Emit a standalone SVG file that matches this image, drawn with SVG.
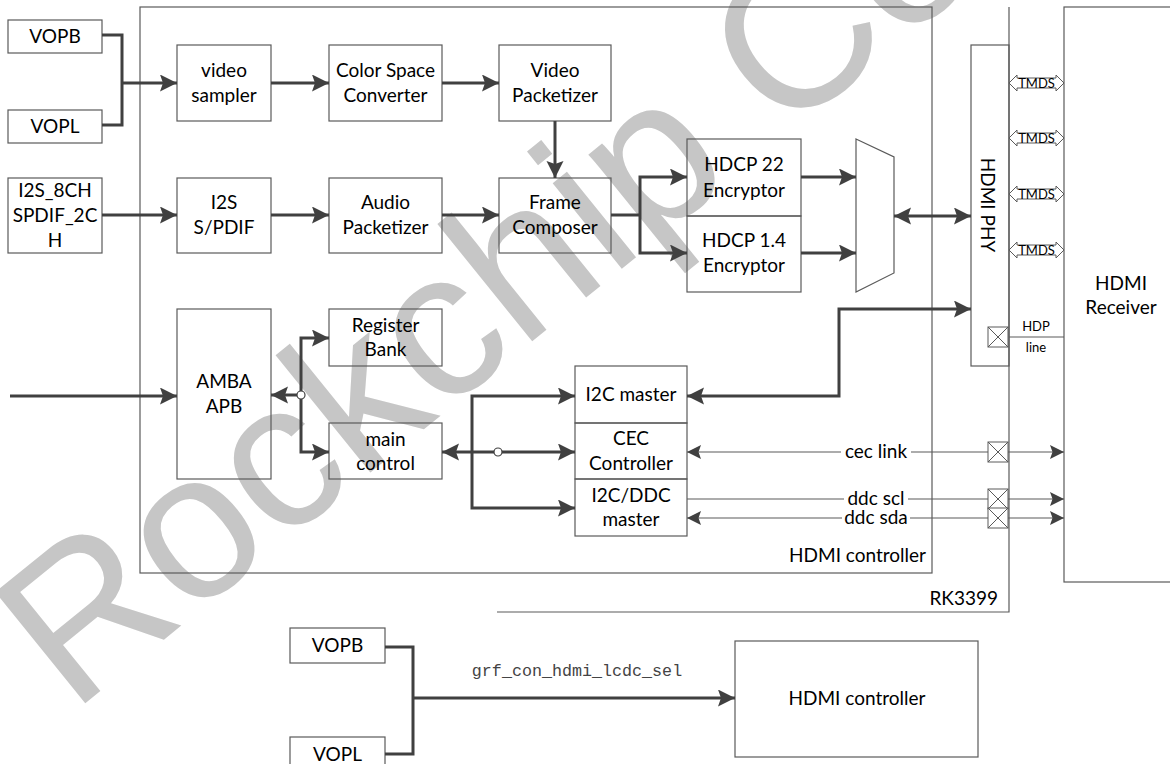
<svg xmlns="http://www.w3.org/2000/svg" width="1170" height="764" viewBox="0 0 1170 764">
<style>
.box{fill:none;stroke:#5a5a5a;stroke-width:1.2}
.frame{fill:none;stroke:#5a5a5a;stroke-width:1.2}
.t{font-family:Lato,"Liberation Sans",sans-serif;font-size:19px;fill:#000;text-anchor:middle}
.tr{font-family:Lato,"Liberation Sans",sans-serif;font-size:19px;fill:#000;text-anchor:end}
.s{font-family:Lato,"Liberation Sans",sans-serif;font-size:13px;fill:#000;text-anchor:middle}
.thick{fill:none;stroke:#404040;stroke-width:3}
.thin{fill:none;stroke:#5a5a5a;stroke-width:1.2}
.xb{fill:#fff;stroke:#5a5a5a;stroke-width:1}
.wm{font-family:"Liberation Sans",Arial,sans-serif;font-size:208px;fill:#c6c6c6}
</style>
<defs>
<marker id="ah" markerUnits="userSpaceOnUse" markerWidth="18" markerHeight="18" refX="17" refY="8.5" orient="auto-start-reverse"><path d="M0,0 L17,8.5 L0,17 L3,8.5 z" fill="#404040"/></marker>
<marker id="as" markerUnits="userSpaceOnUse" markerWidth="15" markerHeight="15" refX="14" refY="7" orient="auto-start-reverse"><path d="M0,0 L14,7 L0,14 L2.5,7 z" fill="#404040"/></marker>
<g id="xbox"><rect x="0" y="0" width="20" height="20" class="xb"/><path d="M0,0 L20,20 M20,0 L0,20" stroke="#5a5a5a" stroke-width="1"/></g>
<g id="tmds"><polygon points="0,0 8,-8 8,-5 47,-5 47,-8 55,0 47,8 47,5 8,5 8,8" fill="#fff" stroke="#5a5a5a" stroke-width="1"/><text x="27.5" y="5" class="s" font-size="12.5">TMDS</text></g>
</defs>
<rect width="1170" height="764" fill="#fff"/>
<text class="wm" transform="translate(72,714) rotate(-39)">Rockchip Co</text>

<g id="rk3399"><path d="M1009,7 V612 H497" class="frame"/><text x="998" y="605" class="tr">RK3399</text></g>
<g id="hdmi-controller"><rect x="140" y="7" width="792" height="566" class="frame"/><text x="926" y="562" class="tr">HDMI controller</text></g>

<g id="vopb"><rect x="8" y="20" width="94" height="33" class="box"/><text x="55" y="43" class="t">VOPB</text></g>
<g id="vopl"><rect x="8" y="110" width="94" height="33" class="box"/><text x="55" y="133" class="t">VOPL</text></g>
<g id="i2s8ch"><rect x="8" y="178" width="94" height="75" class="box"/><text x="55" y="197" class="t">I2S_8CH</text><text x="55" y="222" class="t">SPDIF_2C</text><text x="55" y="247" class="t">H</text></g>
<g id="video-sampler"><rect x="177" y="45" width="94" height="76" class="box"/><text x="224" y="77" class="t">video</text><text x="224" y="102" class="t">sampler</text></g>
<g id="csc"><rect x="329" y="45" width="113" height="76" class="box"/><text x="385.5" y="77" class="t">Color Space</text><text x="385.5" y="102" class="t">Converter</text></g>
<g id="video-packetizer"><rect x="499" y="45" width="112" height="76" class="box"/><text x="555" y="77" class="t">Video</text><text x="555" y="102" class="t">Packetizer</text></g>
<g id="i2s"><rect x="177" y="178" width="94" height="75" class="box"/><text x="224" y="209" class="t">I2S</text><text x="224" y="234" class="t">S/PDIF</text></g>
<g id="audio-packetizer"><rect x="329" y="178" width="113" height="75" class="box"/><text x="385.5" y="209" class="t">Audio</text><text x="385.5" y="234" class="t">Packetizer</text></g>
<g id="frame-composer"><rect x="499" y="178" width="112" height="75" class="box"/><text x="555" y="209" class="t">Frame</text><text x="555" y="234" class="t">Composer</text></g>
<g id="hdcp22"><rect x="687" y="139" width="114" height="77" class="box"/><text x="744" y="171" class="t">HDCP 22</text><text x="744" y="197" class="t">Encryptor</text></g>
<g id="hdcp14"><rect x="687" y="216" width="114" height="76" class="box"/><text x="744" y="247" class="t">HDCP 1.4</text><text x="744" y="272" class="t">Encryptor</text></g>
<g id="mux"><polygon points="856,139 894,157 894,273 856,292" class="box"/></g>
<g id="hdmi-phy"><rect x="971" y="45" width="38" height="321" class="box"/><text class="t" transform="translate(981,205) rotate(90)">HDMI PHY</text></g>
<g id="amba-apb"><rect x="177" y="309" width="94" height="170" class="box"/><text x="224" y="388" class="t">AMBA</text><text x="224" y="413" class="t">APB</text></g>
<g id="register-bank"><rect x="329" y="309" width="113" height="57" class="box"/><text x="385.5" y="332" class="t">Register</text><text x="385.5" y="356" class="t">Bank</text></g>
<g id="main-control"><rect x="329" y="423" width="113" height="56" class="box"/><text x="385.5" y="446" class="t">main</text><text x="385.5" y="470" class="t">control</text></g>
<g id="i2c-master"><rect x="575" y="366" width="112" height="57" class="box"/><text x="631" y="401" class="t">I2C master</text></g>
<g id="cec-controller"><rect x="575" y="423" width="112" height="56" class="box"/><text x="631" y="445" class="t">CEC</text><text x="631" y="470" class="t">Controller</text></g>
<g id="i2c-ddc-master"><rect x="575" y="479" width="112" height="57" class="box"/><text x="631" y="502" class="t">I2C/DDC</text><text x="631" y="526" class="t">master</text></g>
<g id="hdmi-receiver"><rect x="1064" y="7" width="120" height="575" class="box"/><text x="1121" y="290" class="t">HDMI</text><text x="1121" y="314" class="t">Receiver</text></g>

<g id="vopb2"><rect x="290" y="628" width="95" height="35" class="box"/><text x="337.5" y="652" class="t">VOPB</text></g>
<g id="vopl2"><rect x="290" y="737" width="95" height="35" class="box"/><text x="337.5" y="761" class="t">VOPL</text></g>
<g id="hdmi-controller2"><rect x="735" y="641" width="243" height="116" class="box"/><text x="857" y="705" class="t">HDMI controller</text></g>

<g id="connectors">
<path d="M102,35 H122 V125 H102" class="thick"/>
<path d="M122,83 H177" class="thick" marker-end="url(#ah)"/>
<path d="M271,83 H329" class="thick" marker-end="url(#ah)"/>
<path d="M442,83 H499" class="thick" marker-end="url(#ah)"/>
<path d="M555,121 V178" class="thick" marker-end="url(#ah)"/>
<path d="M102,215 H177" class="thick" marker-end="url(#ah)"/>
<path d="M271,215 H329" class="thick" marker-end="url(#ah)"/>
<path d="M442,215 H499" class="thick" marker-end="url(#ah)"/>
<path d="M611,215 H640" class="thick"/>
<path d="M687,177 H640 V253 H687" class="thick" marker-start="url(#ah)" marker-end="url(#ah)"/>
<path d="M801,177 H856" class="thick" marker-end="url(#ah)"/>
<path d="M801,253 H856" class="thick" marker-end="url(#ah)"/>
<path d="M894,216 H971" class="thick" marker-start="url(#ah)" marker-end="url(#ah)"/>
<path d="M687,396 H839 V309 H971" class="thick" marker-start="url(#ah)" marker-end="url(#ah)"/>
<path d="M10,396 H177" class="thick" marker-end="url(#ah)"/>
<path d="M301,395 H271" class="thick" marker-end="url(#ah)"/>
<path d="M329,338 H301 V452 H329" class="thick" marker-start="url(#ah)" marker-end="url(#ah)"/>
<circle cx="301" cy="395" r="4" fill="#fff" stroke="#404040" stroke-width="1.2"/>
<path d="M442,452 H575" class="thick" marker-start="url(#ah)" marker-end="url(#ah)"/>
<path d="M575,396 H472 V508 H575" class="thick" marker-start="url(#ah)" marker-end="url(#ah)"/>
<circle cx="498" cy="452" r="4" fill="#fff" stroke="#404040" stroke-width="1.2"/>
<path d="M687,452 H1064" class="thin" marker-start="url(#as)" marker-end="url(#as)"/>
<path d="M687,499 H1064" class="thin" marker-end="url(#as)"/>
<path d="M687,518 H1064" class="thin" marker-start="url(#as)" marker-end="url(#as)"/>
<rect x="841" y="440" width="70" height="18" fill="#fff"/>
<text x="876" y="458" class="t">cec link</text>
<rect x="844" y="492" width="64" height="12" fill="#fff"/>
<text x="876" y="505" class="t" font-size="18">ddc scl</text>
<rect x="842" y="511" width="68" height="12" fill="#fff"/>
<text x="876" y="524" class="t" font-size="18">ddc sda</text>
<use href="#xbox" x="988" y="442"/>
<use href="#xbox" x="988" y="489"/>
<use href="#xbox" x="988" y="508"/>
<path d="M1009,337 H1064" class="thin"/>
<use href="#xbox" x="988" y="327"/>
<text x="1036" y="331" class="s">HDP</text>
<text x="1036" y="352" class="s">line</text>
<use href="#tmds" x="1009" y="83"/>
<use href="#tmds" x="1009" y="138"/>
<use href="#tmds" x="1009" y="194"/>
<use href="#tmds" x="1009" y="250"/>
<path d="M385,647 H413 V754 H385" class="thick"/>
<path d="M413,698 H735" class="thick" marker-end="url(#ah)"/>
<text x="577" y="676" font-family="'Liberation Mono',monospace" font-size="16.7" fill="#444" text-anchor="middle">grf_con_hdmi_lcdc_sel</text>
</g>
</svg>
